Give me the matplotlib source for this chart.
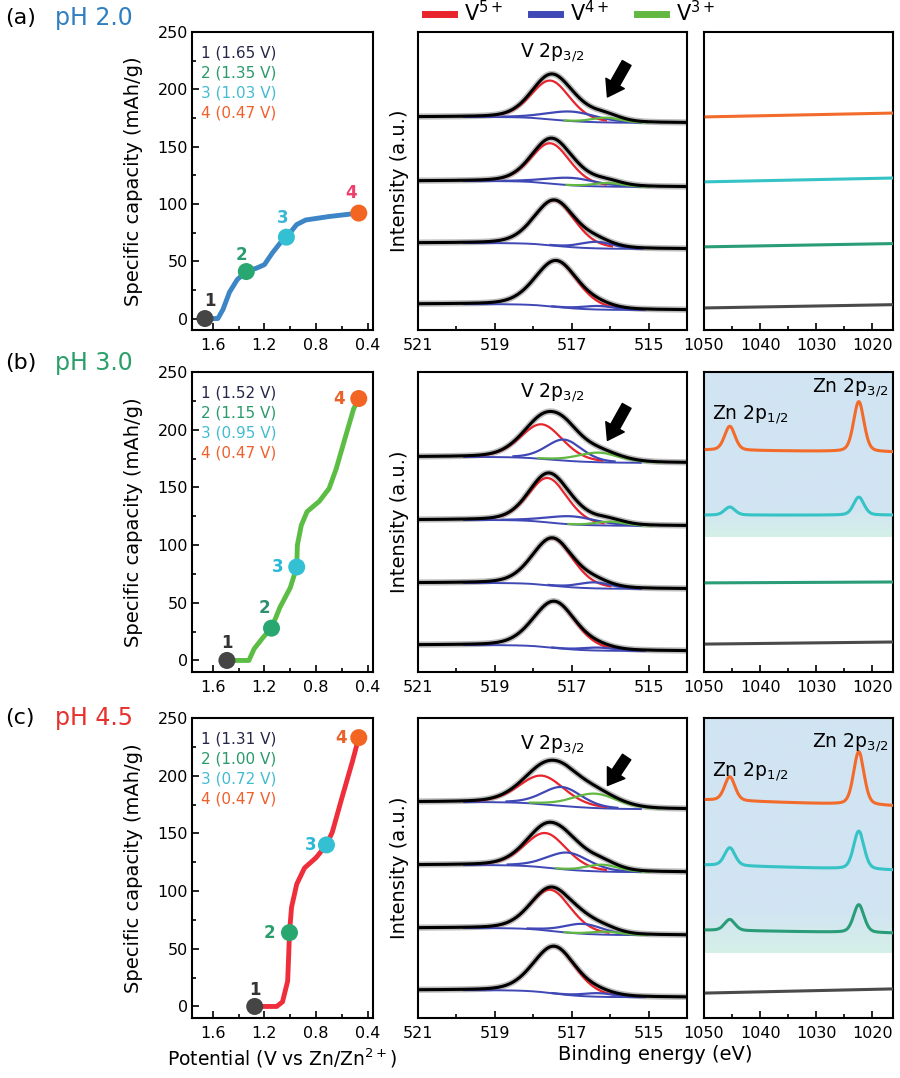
import numpy as np
import matplotlib
matplotlib.use('Agg')
import matplotlib.pyplot as plt
from matplotlib.lines import Line2D
from matplotlib.ticker import MultipleLocator, FixedLocator, NullLocator

plt.rcParams['font.family'] = ['DejaVu Sans']
plt.rcParams['mathtext.fontset'] = 'dejavusans'

# ======================= DATA =======================
panel_tags = ['(a)', '(b)', '(c)']
ph_labels = ['pH 2.0', 'pH 3.0', 'pH 4.5']

# discharge curves: potential (V vs Zn/Zn2+) and specific capacity (mAh/g)
pot_a = [1.66, 1.56, 1.52, 1.47, 1.41, 1.34, 1.26, 1.20, 1.14, 1.07, 1.03, 0.95, 0.88, 0.70, 0.47]
cap_a = [0, 0, 8, 23, 34, 41, 44, 47, 57, 67, 71, 82, 86, 89, 92]
pot_b = [1.49, 1.32, 1.28, 1.21, 1.145, 1.08, 1.00, 0.95, 0.945, 0.915, 0.87, 0.775, 0.70, 0.645, 0.57, 0.51, 0.47]
cap_b = [0, 0, 10, 20, 28, 46, 63, 81, 100, 117, 129, 138, 149, 166, 195, 218, 227]
pot_c = [1.275, 1.105, 1.06, 1.02, 1.01, 1.006, 0.99, 0.95, 0.89, 0.80, 0.72, 0.675, 0.60, 0.52, 0.47]
cap_c = [0, 0, 4, 22, 51, 64, 86, 106, 120, 129, 140, 151, 181, 212, 233]

# sampled states 1-4
pt_pot_a = [1.66, 1.34, 1.03, 0.47]
pt_cap_a = [0, 41, 71, 92]
pt_pot_b = [1.49, 1.145, 0.95, 0.47]
pt_cap_b = [0, 28, 81, 227]
pt_pot_c = [1.275, 1.006, 0.72, 0.47]
pt_cap_c = [0, 64, 140, 233]
state_names = ['1', '2', '3', '4']
volt_a = ['1.65', '1.35', '1.03', '0.47']
volt_b = ['1.52', '1.15', '0.95', '0.47']
volt_c = ['1.31', '1.00', '0.72', '0.47']

# V 2p3/2 fitted components per state (1..4): (center eV, height, FWHM eV)
v5_a = [(517.40, 0.155, 1.30), (517.45, 0.152, 1.25), (517.55, 0.135, 1.20), (517.55, 0.130, 1.20)]
v4_a = [(516.30, 0.012, 1.00), (516.35, 0.022, 1.00), (517.00, 0.025, 1.50), (517.00, 0.032, 1.50)]
v3_a = [(516.10, 0.000, 0.90), (516.10, 0.000, 0.90), (516.05, 0.012, 0.90), (516.10, 0.016, 0.90)]
v5_b = [(517.45, 0.155, 1.30), (517.50, 0.158, 1.25), (517.62, 0.148, 1.20), (517.78, 0.115, 1.30)]
v4_b = [(516.30, 0.010, 1.00), (516.40, 0.020, 1.00), (517.00, 0.027, 1.50), (517.20, 0.070, 1.10)]
v3_b = [(516.10, 0.000, 0.90), (516.10, 0.000, 0.90), (516.00, 0.013, 0.90), (516.30, 0.032, 1.30)]
v5_c = [(517.45, 0.157, 1.30), (517.55, 0.137, 1.25), (517.68, 0.115, 1.30), (517.78, 0.095, 1.40)]
v4_c = [(516.30, 0.012, 1.00), (516.70, 0.033, 1.20), (517.10, 0.057, 1.30), (517.25, 0.063, 1.20)]
v3_c = [(516.10, 0.000, 0.90), (516.10, 0.010, 0.90), (516.20, 0.023, 1.00), (516.40, 0.048, 1.40)]
# high-BE baseline level of each stacked spectrum and background step
vbase_a = [0.087, 0.292, 0.500, 0.715]
vbase_b = [0.090, 0.297, 0.507, 0.717]
vbase_c = [0.093, 0.300, 0.510, 0.720]
vstep = [0.020, 0.020, 0.024]

# Zn 2p spectra per state (1..4): baseline (left, right), peak heights
zn_centers = [1045.4, 1022.4]
zn_base_a = [(0.074, 0.085), (0.279, 0.290), (0.497, 0.510), (0.715, 0.728)]
zn_p12_a = [0.0, 0.0, 0.0, 0.0]
zn_p32_a = [0.0, 0.0, 0.0, 0.0]
zn_base_b = [(0.093, 0.100), (0.297, 0.300), (0.523, 0.523), (0.740, 0.733)]
zn_p12_b = [0.0, 0.0, 0.027, 0.080]
zn_p32_b = [0.0, 0.0, 0.060, 0.167]
zn_base_c = [(0.083, 0.097), (0.293, 0.283), (0.510, 0.493), (0.727, 0.707)]
zn_p12_c = [0.0, 0.037, 0.060, 0.080]
zn_p32_c = [0.0, 0.093, 0.127, 0.177]

v_xticks = [521, 519, 517, 515]
zn_xticks = [1050, 1040, 1030, 1020]
cap_xticks = [1.6, 1.2, 0.8, 0.4]

# ======================= STYLE =======================
ph_colors = ['#2f7fc1', '#2a9f6a', '#e8302c']
curve_colors = ['#3c85c6', '#5cbd44', '#ef2e3c']
state_colors = ['#454545', '#28a870', '#33c0d2', '#f26522']
label_colors = [['#333333', '#2a9d6e', '#3bb6d6', '#f0406a'],
                ['#333333', '#2f8f70', '#2ab8d8', '#e8622a'],
                ['#333333', '#2a9d6e', '#2ab8d8', '#e8622a']]
legend_colors = ['#26264a', '#2a9a6a', '#44bcd0', '#f0602c']
spec_colors = ['#4a4a4a', '#2a9d78', '#35c3c6', '#f26b2b']
c_v5, c_v4, c_v3 = '#e8242c', '#4048b5', '#62b841'
label_offsets = [[(5, 18), (-5, 17), (-4, 19), (-8, 20)],
                 [(0, 17), (-7, 20), (-19, 0), (-20, 0)],
                 [(0, 16), (-20, 0), (-16, 0), (-18, 0)]]

W, H = 900, 1078
fig = plt.figure(figsize=(9, 10.78), dpi=100)

rows_px = [(32, 330), (372, 672), (718, 1018)]
cols_px = [(192, 373), (418, 687), (704, 893)]


def mk_axes(col, row):
    x0, x1 = cols_px[col]
    y0, y1 = rows_px[row]
    return fig.add_axes([x0 / W, 1 - y1 / H, (x1 - x0) / W, (y1 - y0) / H])


def pv(x, c, h, w, eta=0.25):
    u = (x - c) / w
    return h * ((1 - eta) * np.exp(-4 * np.log(2) * u ** 2) + eta / (1 + 4 * u ** 2))


def style_spines(ax):
    for s in ax.spines.values():
        s.set_linewidth(1.5)
    ax.tick_params(which='both', direction='in', width=1.2, labelsize=11.5)
    ax.tick_params(axis='x', pad=6)
    ax.tick_params(axis='y', pad=3)
    ax.tick_params(which='major', length=5)
    ax.tick_params(which='minor', length=3)


caps = [(pot_a, cap_a, pt_pot_a, pt_cap_a, volt_a),
        (pot_b, cap_b, pt_pot_b, pt_cap_b, volt_b),
        (pot_c, cap_c, pt_pot_c, pt_cap_c, volt_c)]
vfits = [(v5_a, v4_a, v3_a, vbase_a), (v5_b, v4_b, v3_b, vbase_b), (v5_c, v4_c, v3_c, vbase_c)]
zns = [(zn_base_a, zn_p12_a, zn_p32_a), (zn_base_b, zn_p12_b, zn_p32_b), (zn_base_c, zn_p12_c, zn_p32_c)]
shade_to = [None, 0.45, 0.217]
vlab_y = [0.93, 0.93, 0.91]
arrows = [((515.57, 0.896), (516.07, 0.782)),
          ((515.57, 0.887), (516.07, 0.772)),
          ((515.57, 0.870), (516.07, 0.775))]
zn_lab = [None, ((1041.7, 0.857), (1023.9, 0.947)), ((1041.7, 0.82), (1023.9, 0.917))]
tag_y = [18, 363, 718]

for r in range(3):
    pot, cap, ppot, pcap, volts = caps[r]
    # ---------- capacity panel ----------
    ax = mk_axes(0, r)
    ax.plot(pot, cap, color=curve_colors[r], lw=3.5, solid_joinstyle='round',
            solid_capstyle='round', zorder=2)
    ax.scatter(ppot, pcap, s=150, c=state_colors, edgecolors='none', zorder=3)
    for i in range(4):
        ax.annotate(state_names[i], (ppot[i], pcap[i]), xytext=label_offsets[r][i],
                    textcoords='offset pixels', ha='center', va='center', fontsize=12,
                    fontweight='bold', color=label_colors[r][i], zorder=4)
        ax.text(0.05, 0.93 - i * 0.067, f'{state_names[i]} ({volts[i]} V)', transform=ax.transAxes,
                fontsize=11, color=legend_colors[i], va='center', ha='left')
    ax.set_xlim(1.76, 0.36)
    ax.set_ylim(-10, 250)
    ax.xaxis.set_major_locator(FixedLocator(cap_xticks))
    ax.xaxis.set_minor_locator(FixedLocator([1.4, 1.0, 0.6]))
    ax.yaxis.set_major_locator(MultipleLocator(50))
    ax.yaxis.set_minor_locator(MultipleLocator(25))
    ax.set_xticklabels([f'{t:.1f}' for t in cap_xticks])
    style_spines(ax)
    ax.set_ylabel('Specific capacity (mAh/g)', fontsize=14)
    ax.yaxis.set_label_coords(-0.27, 0.5)
    if r == 2:
        ax.set_xlabel('Potential (V vs Zn/Zn$^{2+}$)', fontsize=13.5, labelpad=4)

    # ---------- V 2p3/2 panel ----------
    ax = mk_axes(1, r)
    v5, v4, v3, vb = vfits[r]
    x = np.linspace(514.0, 521.0, 700)
    for i in range(4):
        comps = [pv(x, *v5[i]), pv(x, *v4[i]), pv(x, *v3[i])]
        tot = comps[0] + comps[1] + comps[2]
        cum = np.cumsum(tot)
        cum = cum / cum[-1]
        bg = vb[i] - vstep[r] + vstep[r] * cum
        env = bg + tot
        ax.plot(x, env, color='#bdbdbd', lw=4.5, zorder=2)
        m = (x > 515.2) & (x < 519.8)
        ax.plot(x[m], bg[m], color=c_v4, lw=1.4, zorder=3)
        for comp, par, col in zip(comps, (v5[i], v4[i], v3[i]), (c_v5, c_v4, c_v3)):
            if par[1] <= 0:
                continue
            mm = comp > 0.05 * par[1]
            ax.plot(x[mm], (bg + comp)[mm], color=col, lw=1.6, zorder=4)
        ax.plot(x, env, color='black', lw=2.2, zorder=5)
    ax.set_xlim(521, 514)
    ax.set_ylim(0, 1)
    ax.xaxis.set_major_locator(FixedLocator(v_xticks))
    ax.xaxis.set_minor_locator(FixedLocator([520, 518, 516]))
    ax.yaxis.set_major_locator(NullLocator())
    style_spines(ax)
    ax.set_ylabel('Intensity (a.u.)', fontsize=14)
    ax.yaxis.set_label_coords(-0.035, 0.5)
    ax.text(517.5, vlab_y[r], 'V 2p$_{3/2}$', transform=ax.get_xaxis_transform(),
            ha='center', va='center', fontsize=13.5)
    tail, head = arrows[r]
    ax.annotate('', xy=head, xytext=tail, xycoords=('data', 'axes fraction'),
                textcoords=('data', 'axes fraction'),
                arrowprops=dict(arrowstyle='simple,head_length=0.7,head_width=0.95,tail_width=0.45',
                                color='black', shrinkA=0, shrinkB=0, mutation_scale=16))

    # ---------- Zn 2p panel ----------
    ax = mk_axes(2, r)
    zb, z12, z32 = zns[r]
    xz = np.linspace(1016.3, 1049.6, 600)
    for i in range(4):
        bl, br = zb[i]
        base = bl + (br - bl) * (1050 - xz) / (1050 - 1016.3)
        y = base + pv(xz, zn_centers[0], z12[i], 2.2, 0.3) + pv(xz, zn_centers[1], z32[i], 2.2, 0.3)
        ax.plot(xz, y, color=spec_colors[i], lw=2.2, zorder=3)
    if shade_to[r] is not None:
        top = np.array([209, 228, 242]) / 255.0
        bot = np.array([213, 240, 232]) / 255.0
        t = np.clip((np.linspace(0, 1, 128) - 0.82) / 0.18, 0, 1)[:, None]
        grad = (top[None, :] * (1 - t) + bot[None, :] * t)[:, None, :]
        ax.imshow(grad, extent=[1050, 1016.3, shade_to[r], 1], aspect='auto', zorder=0,
                  origin='upper', interpolation='bilinear')
        (x1, y1), (x2, y2) = zn_lab[r]
        ax.text(x1, y1, 'Zn 2p$_{1/2}$', ha='center', va='center', fontsize=13.5, zorder=5)
        ax.text(x2, y2, 'Zn 2p$_{3/2}$', ha='center', va='center', fontsize=13.5, zorder=5)
    ax.set_xlim(1050, 1016.3)
    ax.set_ylim(0, 1)
    ax.xaxis.set_major_locator(FixedLocator(zn_xticks))
    ax.xaxis.set_minor_locator(FixedLocator([1045, 1035, 1025]))
    ax.yaxis.set_major_locator(NullLocator())
    style_spines(ax)

    # ---------- row tags ----------
    fig.text(5 / W, 1 - tag_y[r] / H, panel_tags[r], fontsize=16, va='center', ha='left')
    fig.text(55 / W, 1 - tag_y[r] / H, ph_labels[r], fontsize=17, va='center', ha='left',
             color=ph_colors[r])

fig.text(655 / W, 1 - 1055 / H, 'Binding energy (eV)', fontsize=14, ha='center', va='center')

handles = [Line2D([], [], color=c, lw=5) for c in (c_v5, c_v4, c_v3)]
fig.legend(handles, ['V$^{5+}$', 'V$^{4+}$', 'V$^{3+}$'], loc='center',
           bbox_to_anchor=(570 / W, 1 - 13 / H), ncol=3, frameon=False, fontsize=15,
           handlelength=1.4, handletextpad=0.5, columnspacing=1.3, borderpad=0)

fig.savefig('out.png', dpi=100)
